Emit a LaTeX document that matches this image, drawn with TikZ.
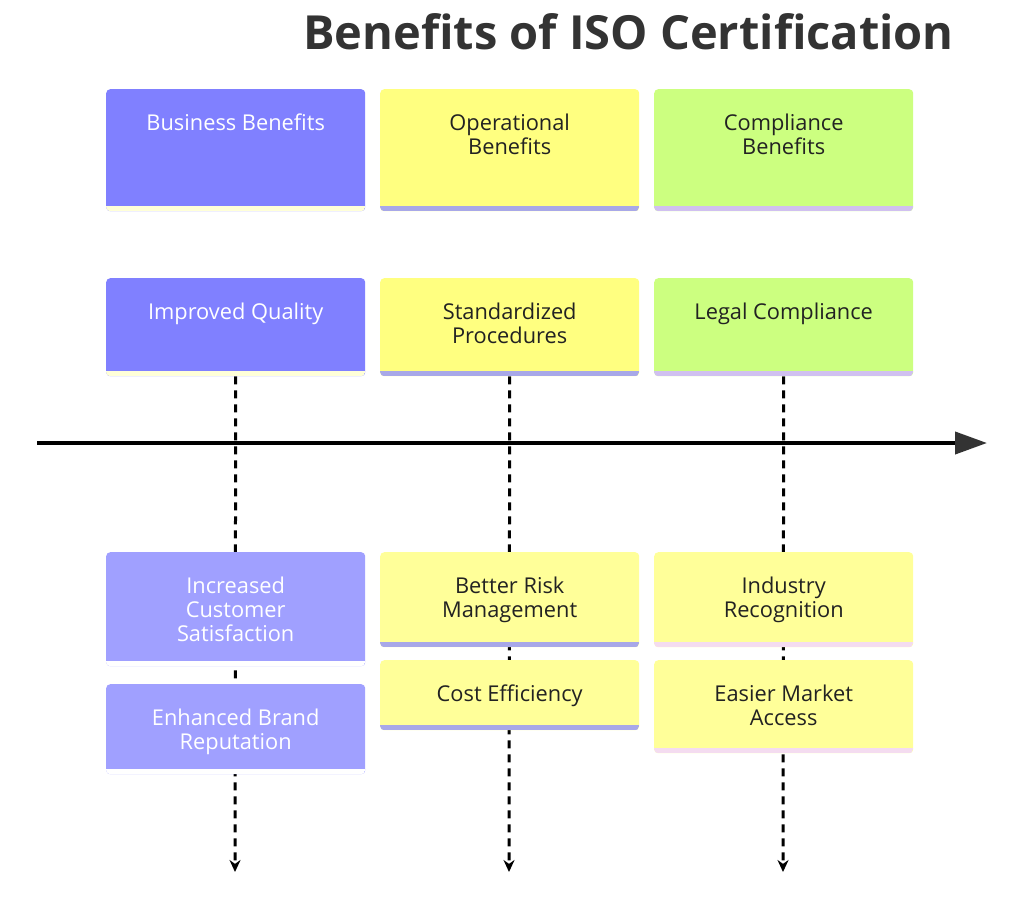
\documentclass[tikz,border=0pt]{standalone}
\usepackage{fontspec}
\setmainfont{Open Sans}
\usetikzlibrary{arrows.meta,backgrounds}
\definecolor{bizblue}{HTML}{8080FF}
\definecolor{bizlight}{HTML}{A0A0FF}
\definecolor{opyellow}{HTML}{FFFF80}
\definecolor{oplight}{HTML}{FFFF99}
\definecolor{compgreen}{HTML}{CCFF80}
\definecolor{stripecream}{HTML}{FFFFD8}
\definecolor{stripelav}{HTML}{A8A8E8}
\definecolor{stripelilac}{HTML}{D0C0F0}
\definecolor{stripepink}{HTML}{F4DCF0}
\definecolor{inkdark}{HTML}{222222}
\definecolor{titlegray}{HTML}{333333}
\tikzset{>=Stealth}
\newcommand{\cardtext}[2]{\parbox[t][#1][t]{259pt}{\centering\strut #2}}
\tikzset{
  card/.style 2 args={fill=#1, rounded corners=4pt, anchor=north west,
    inner xsep=0pt, inner ysep=24pt, font=\fontsize{21.8}{24}\selectfont,
    path picture={\fill[#2, sharp corners] (path picture bounding box.south west)
      rectangle ([yshift=5pt]path picture bounding box.south east);}},
  lighttext/.style={text=white},
  darktext/.style={text=inkdark},
  timeline/.style={line width=4pt, -{Triangle[length=32pt,width=22pt,color=titlegray]}},
  drop/.style={line width=3pt, dash pattern=on 8pt off 6pt, -{Stealth[length=12pt,width=11pt]}}
}

\begin{document}
\begin{tikzpicture}[x=1pt,y=-1pt]
\useasboundingbox (0,0) rectangle (1024,897);
\node[anchor=base, text=titlegray, font=\fontsize{47}{56}\selectfont\bfseries] (title) at (628.5,49) {Benefits of ISO Certification};
% headers
\node[card={bizblue}{stripecream}, lighttext] (bizhead) at (106,89) {\cardtext{74pt}{Business Benefits}};
\node[card={opyellow}{stripelav}, darktext] (ophead) at (380,89) {\cardtext{74pt}{Operational\\Benefits}};
\node[card={compgreen}{stripelilac}, darktext] (comphead) at (654,89) {\cardtext{74pt}{Compliance\\Benefits}};
% above the line
\node[card={bizblue}{stripecream}, lighttext] (quality) at (106,278) {\cardtext{50pt}{Improved Quality}};
\node[card={opyellow}{stripelav}, darktext] (procedures) at (380,278) {\cardtext{50pt}{Standardized\\Procedures}};
\node[card={compgreen}{stripelilac}, darktext] (legal) at (654,278) {\cardtext{50pt}{Legal Compliance}};
% below the line
\node[card={bizlight}{white}, lighttext] (satisfaction) at (106,552) {\cardtext{66pt}{Increased\\Customer\\Satisfaction}};
\node[card={bizlight}{white}, lighttext] (reputation) at (106,684) {\cardtext{42pt}{Enhanced Brand\\Reputation}};
\node[card={oplight}{stripelav}, darktext] (risk) at (380,552) {\cardtext{47pt}{Better Risk\\Management}};
\node[card={oplight}{stripelav}, darktext] (cost) at (380,660) {\cardtext{22pt}{Cost Efficiency}};
\node[card={oplight}{stripepink}, darktext] (recognition) at (654,552) {\cardtext{47pt}{Industry\\Recognition}};
\node[card={oplight}{stripepink}, darktext] (market) at (654,660) {\cardtext{45pt}{Easier Market\\Access}};
\coordinate (qend) at (235,872);
\coordinate (pend) at (509,872);
\coordinate (lend) at (783,872);
\coordinate (tstart) at (37,443);
\coordinate (tend) at (987,443);
\begin{scope}[on background layer]
\fill[white] (0,0) rectangle (1024,897);
\foreach \from/\to in {quality/qend, procedures/pend, legal/lend}
\draw[drop] (\from.south) -- (\to);
\end{scope}
\draw[timeline] (tstart) -- (tend);
\end{tikzpicture}
\end{document}
